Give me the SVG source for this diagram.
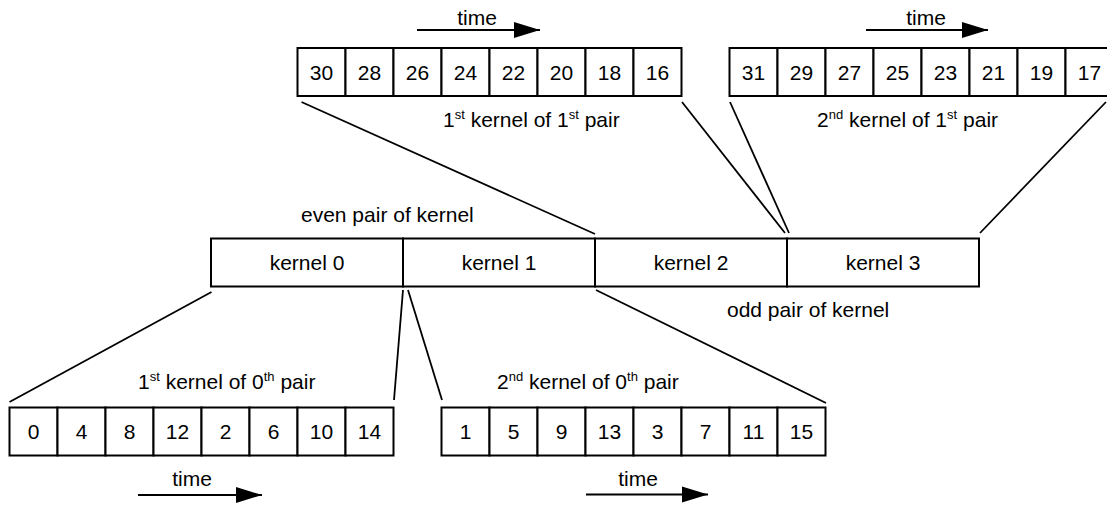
<svg xmlns="http://www.w3.org/2000/svg" width="1107" height="506" viewBox="0 0 1107 506">
<defs>
<style>
.cell{fill:#fff;stroke:#000;stroke-width:2}
.t{font-family:"Liberation Sans",Arial,sans-serif;font-size:21px;fill:#000}
.c{text-anchor:middle}
.conn{stroke:#000;stroke-width:1.8;fill:none}
.arr{stroke:#000;stroke-width:2;fill:none}
</style>
<marker id="ah" markerUnits="userSpaceOnUse" markerWidth="28" markerHeight="18" refX="26" refY="8" orient="auto" overflow="visible">
<path d="M0,0 L26,8 L0,16 Z" fill="#000"/>
</marker>
</defs>
<rect width="1107" height="506" fill="#fff"/>

<g id="connectors">
<line class="conn" x1="301.5" y1="102" x2="595" y2="234"/>
<line class="conn" x1="682" y1="102" x2="785" y2="233"/>
<line class="conn" x1="730" y1="102" x2="789" y2="233"/>
<line class="conn" x1="1106" y1="102" x2="980" y2="233"/>
<line class="conn" x1="211.5" y1="292" x2="9.5" y2="402"/>
<line class="conn" x1="403" y1="290" x2="394" y2="400"/>
<line class="conn" x1="408" y1="290" x2="442" y2="400"/>
<line class="conn" x1="596" y1="290" x2="826" y2="403"/>
</g>

<g id="top-left-array">
<rect class="cell" x="297.5" y="48" width="48" height="48"/>
<rect class="cell" x="345.5" y="48" width="48" height="48"/>
<rect class="cell" x="393.5" y="48" width="48" height="48"/>
<rect class="cell" x="441.5" y="48" width="48" height="48"/>
<rect class="cell" x="489.5" y="48" width="48" height="48"/>
<rect class="cell" x="537.5" y="48" width="48" height="48"/>
<rect class="cell" x="585.5" y="48" width="48" height="48"/>
<rect class="cell" x="633.5" y="48" width="48" height="48"/>
<text class="t c" x="321.5" y="79.5">30</text>
<text class="t c" x="369.5" y="79.5">28</text>
<text class="t c" x="417.5" y="79.5">26</text>
<text class="t c" x="465.5" y="79.5">24</text>
<text class="t c" x="513.5" y="79.5">22</text>
<text class="t c" x="561.5" y="79.5">20</text>
<text class="t c" x="609.5" y="79.5">18</text>
<text class="t c" x="657.5" y="79.5">16</text>
<text class="t" x="443" y="127">1<tspan font-size="13" dy="-8">st</tspan><tspan dy="8"> kernel of 1</tspan><tspan font-size="13" dy="-8">st</tspan><tspan dy="8"> pair</tspan></text>
<text class="t c" x="477" y="25">time</text>
<line class="arr" x1="417" y1="30" x2="540" y2="30" marker-end="url(#ah)"/>
</g>

<g id="top-right-array">
<rect class="cell" x="729.5" y="48" width="48" height="48"/>
<rect class="cell" x="777.5" y="48" width="48" height="48"/>
<rect class="cell" x="825.5" y="48" width="48" height="48"/>
<rect class="cell" x="873.5" y="48" width="48" height="48"/>
<rect class="cell" x="921.5" y="48" width="48" height="48"/>
<rect class="cell" x="969.5" y="48" width="48" height="48"/>
<rect class="cell" x="1017.5" y="48" width="48" height="48"/>
<rect class="cell" x="1065.5" y="48" width="48" height="48"/>
<text class="t c" x="753.5" y="79.5">31</text>
<text class="t c" x="801.5" y="79.5">29</text>
<text class="t c" x="849.5" y="79.5">27</text>
<text class="t c" x="897.5" y="79.5">25</text>
<text class="t c" x="945.5" y="79.5">23</text>
<text class="t c" x="993.5" y="79.5">21</text>
<text class="t c" x="1041.5" y="79.5">19</text>
<text class="t c" x="1089.5" y="79.5">17</text>
<text class="t" x="817" y="127">2<tspan font-size="13" dy="-8">nd</tspan><tspan dy="8"> kernel of 1</tspan><tspan font-size="13" dy="-8">st</tspan><tspan dy="8"> pair</tspan></text>
<text class="t c" x="926" y="25">time</text>
<line class="arr" x1="866" y1="30" x2="988" y2="30" marker-end="url(#ah)"/>
</g>

<g id="kernels">
<rect class="cell" x="211" y="238.5" width="192" height="48"/>
<rect class="cell" x="403" y="238.5" width="192" height="48"/>
<rect class="cell" x="595" y="238.5" width="192" height="48"/>
<rect class="cell" x="787" y="238.5" width="192" height="48"/>
<text class="t c" x="307" y="269.5">kernel 0</text>
<text class="t c" x="499" y="269.5">kernel 1</text>
<text class="t c" x="691" y="269.5">kernel 2</text>
<text class="t c" x="883" y="269.5">kernel 3</text>
<text class="t" x="301" y="221.5">even pair of kernel</text>
<text class="t" x="727" y="317">odd pair of kernel</text>
</g>

<g id="bottom-left-array">
<rect class="cell" x="9.5" y="407.5" width="48" height="48"/>
<rect class="cell" x="57.5" y="407.5" width="48" height="48"/>
<rect class="cell" x="105.5" y="407.5" width="48" height="48"/>
<rect class="cell" x="153.5" y="407.5" width="48" height="48"/>
<rect class="cell" x="201.5" y="407.5" width="48" height="48"/>
<rect class="cell" x="249.5" y="407.5" width="48" height="48"/>
<rect class="cell" x="297.5" y="407.5" width="48" height="48"/>
<rect class="cell" x="345.5" y="407.5" width="48" height="48"/>
<text class="t c" x="33.5" y="438.5">0</text>
<text class="t c" x="81.5" y="438.5">4</text>
<text class="t c" x="129.5" y="438.5">8</text>
<text class="t c" x="177.5" y="438.5">12</text>
<text class="t c" x="225.5" y="438.5">2</text>
<text class="t c" x="273.5" y="438.5">6</text>
<text class="t c" x="321.5" y="438.5">10</text>
<text class="t c" x="369.5" y="438.5">14</text>
<text class="t" x="138" y="389">1<tspan font-size="13" dy="-8">st</tspan><tspan dy="8"> kernel of 0</tspan><tspan font-size="13" dy="-8">th</tspan><tspan dy="8"> pair</tspan></text>
<text class="t c" x="192" y="486">time</text>
<line class="arr" x1="138" y1="495" x2="262" y2="495" marker-end="url(#ah)"/>
</g>

<g id="bottom-right-array">
<rect class="cell" x="441.5" y="407.5" width="48" height="48"/>
<rect class="cell" x="489.5" y="407.5" width="48" height="48"/>
<rect class="cell" x="537.5" y="407.5" width="48" height="48"/>
<rect class="cell" x="585.5" y="407.5" width="48" height="48"/>
<rect class="cell" x="633.5" y="407.5" width="48" height="48"/>
<rect class="cell" x="681.5" y="407.5" width="48" height="48"/>
<rect class="cell" x="729.5" y="407.5" width="48" height="48"/>
<rect class="cell" x="777.5" y="407.5" width="48" height="48"/>
<text class="t c" x="465.5" y="438.5">1</text>
<text class="t c" x="513.5" y="438.5">5</text>
<text class="t c" x="561.5" y="438.5">9</text>
<text class="t c" x="609.5" y="438.5">13</text>
<text class="t c" x="657.5" y="438.5">3</text>
<text class="t c" x="705.5" y="438.5">7</text>
<text class="t c" x="753.5" y="438.5">11</text>
<text class="t c" x="801.5" y="438.5">15</text>
<text class="t" x="497" y="389">2<tspan font-size="13" dy="-8">nd</tspan><tspan dy="8"> kernel of 0</tspan><tspan font-size="13" dy="-8">th</tspan><tspan dy="8"> pair</tspan></text>
<text class="t c" x="638" y="486">time</text>
<line class="arr" x1="586" y1="494.5" x2="708" y2="494.5" marker-end="url(#ah)"/>
</g>
</svg>
